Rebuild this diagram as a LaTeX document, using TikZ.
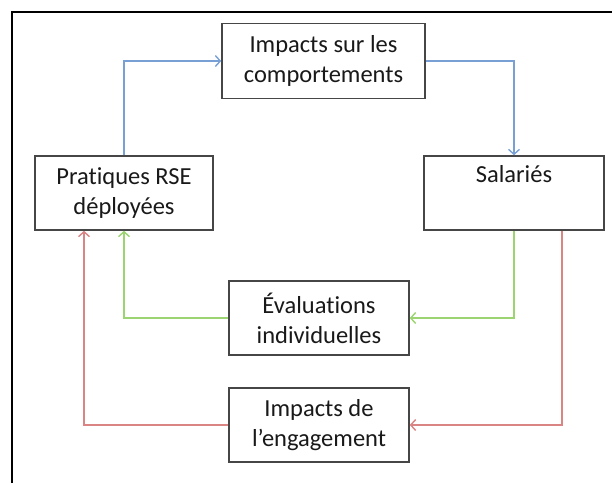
\documentclass[tikz,border=0pt]{standalone}
\usepackage{fontspec}
\setmainfont{Carlito}[Ligatures={NoCommon}]
\usetikzlibrary{arrows.meta}
\definecolor{lblue}{RGB}{120,160,212}
\definecolor{lgreen}{RGB}{155,212,112}
\definecolor{lred}{RGB}{218,132,132}
\definecolor{boxline}{RGB}{70,70,70}
\definecolor{txt}{RGB}{25,25,25}
\tikzset{
  boxnode/.style={draw=boxline, line width=1.5pt, fill=white, align=center,
    font=\fontsize{24.5}{30}\selectfont, text=txt, inner sep=0pt},
  conn/.style={line width=1.8pt, -{Straight Barb[length=5pt,width=11pt,line width=1.4pt]}},
}
\begin{document}
\begin{tikzpicture}[x=1pt,y=-1pt]
\useasboundingbox (0,0) rectangle (612,483);
\draw[line width=2.2pt, black] (12,483) -- (12,12) -- (612,12);
\node[boxnode, minimum width=203pt, minimum height=75pt] (top) at (323.5,61) {Impacts sur les\\comportements};
\node[boxnode, minimum width=178pt, minimum height=74pt] (prat) at (124,193) {Pratiques RSE\\déployées};
\node[boxnode, minimum width=180pt, minimum height=74pt] (sal) at (514,193) {Salariés\\\strut};
\node[boxnode, minimum width=180pt, minimum height=74pt] (eval) at (319,318) {Évaluations\\individuelles};
\node[boxnode, minimum width=180pt, minimum height=74pt] (eng) at (319,425) {Impacts de\\l’engagement};
\draw[conn, lblue] (prat.north) |- (top.west);
\draw[conn, lblue] (top.east) -| (sal.north);
\draw[conn, lgreen] (sal.south) |- (eval.east);
\draw[conn, lgreen] (eval.west) -| (prat.south);
\draw[conn, lred] ([xshift=48pt]sal.south) |- (eng.east);
\draw[conn, lred] (eng.west) -| ([xshift=-40pt]prat.south);
\end{tikzpicture}
\end{document}
